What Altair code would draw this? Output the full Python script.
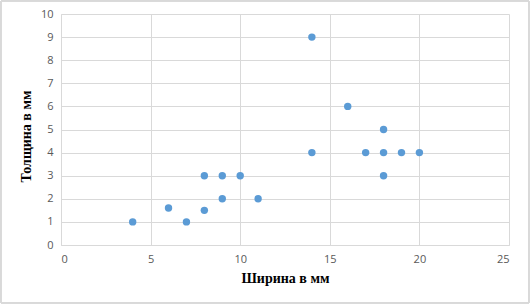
import altair as alt
import pandas as pd

width_mm = [4, 6, 7, 8, 8, 9, 9, 10, 11, 14, 14, 16, 17, 18, 18, 18, 19, 20]
thick_mm = [1, 1.6, 1, 3, 1.5, 3, 2, 3, 2, 9, 4, 6, 4, 5, 4, 3, 4, 4]

df = pd.DataFrame({"w": width_mm, "t": thick_mm})

points = alt.Chart(df).mark_circle(size=55, color="#5B9BD5", opacity=1).encode(
    x=alt.X("w:Q", scale=alt.Scale(domain=[0, 25], nice=False),
            axis=alt.Axis(title="Ширина в мм", values=[0, 5, 10, 15, 20, 25],
                          titlePadding=7)),
    y=alt.Y("t:Q", scale=alt.Scale(domain=[0, 10], nice=False),
            axis=alt.Axis(title="Толщина в мм", values=list(range(11)),
                          titlePadding=7, titleY=122)),
)

frame = alt.Chart(df).mark_rect(fill=None, stroke="#D9D9D9", strokeWidth=1, clip=False).encode(
    x=alt.value(-60), x2=alt.value(468), y=alt.value(-13), y2=alt.value(289)
)

chart = alt.layer(frame, points).properties(
    width=448, height=231,
    autosize=alt.AutoSizeParams(type="none"),
    padding={"left": 61, "top": 14, "right": 22, "bottom": 60},
    background="white",
).configure_view(stroke=None).configure_axis(
    grid=True, gridColor="#D9D9D9", gridWidth=1,
    domain=True, domainColor="#D9D9D9",
    ticks=False, labelPadding=8,
    labelFont="Open Sans", labelFontSize=11, labelColor="#595959",
    titleFont="Liberation Serif", titleFontSize=14, titleFontWeight="bold",
    titleColor="#000000",
)

chart.save("out.html", embed_options={"renderer": "svg", "actions": False})
